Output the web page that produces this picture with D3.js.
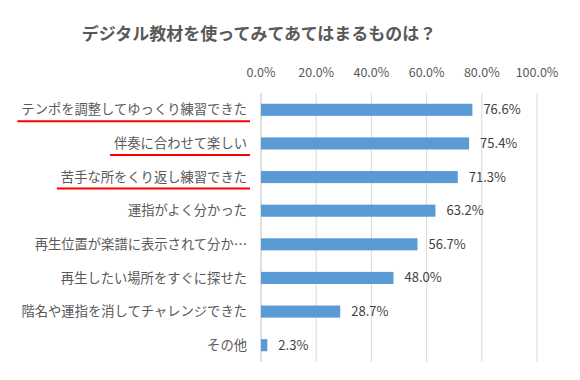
<!DOCTYPE html>
<html>
<head>
<meta charset="utf-8">
<script src="https://cdn.jsdelivr.net/npm/d3@7"></script>
<style>
  body { margin: 0; background: #fff; }
  text { font-family: "Noto Sans CJK JP", "Noto Sans", sans-serif; }
</style>
</head>
<body>
<div id="chart-container"></div>
<script>
// Data
const categories = [
  "テンポを調整してゆっくり練習できた",
  "伴奏に合わせて楽しい",
  "苦手な所をくり返し練習できた",
  "運指がよく分かった",
  "再生位置が楽譜に表示されて分か…",
  "再生したい場所をすぐに探せた",
  "階名や運指を消してチャレンジできた",
  "その他"
];
const values = [76.6, 75.4, 71.3, 63.2, 56.7, 48.0, 28.7, 2.3];
const tickValues = [0, 20, 40, 60, 80, 100];
const underlined = ["テンポを調整してゆっくり練習できた", "伴奏に合わせて楽しい", "苦手な所をくり返し練習できた"];

const W = 580, H = 380;
const margin = { top: 93, right: 43, bottom: 18, left: 261 };
const width = W - margin.left - margin.right;
const height = H - margin.top - margin.bottom;

const svg = d3.select("#chart-container")
  .append("svg")
  .attr("width", W)
  .attr("height", H);

// Title
svg.append("text")
  .attr("x", 259)
  .attr("y", 34)
  .attr("dy", "0.35em")
  .attr("text-anchor", "middle")
  .style("font-size", "17px")
  .style("font-weight", "bold")
  .style("fill", "#595959")
  .text("デジタル教材を使ってみてあてはまるものは？");

const g = svg.append("g")
  .attr("transform", `translate(${margin.left}, ${margin.top})`);

const xScale = d3.scaleLinear().domain([0, 100]).range([0, width]);
const yScale = d3.scaleBand().domain(categories).range([0, height]).paddingInner(0.64).paddingOuter(0.32);

// Gridlines
g.selectAll(".grid")
  .data(tickValues)
  .enter().append("line")
  .attr("x1", d => xScale(d))
  .attr("x2", d => xScale(d))
  .attr("y1", 0)
  .attr("y2", height)
  .style("stroke", d => d === 0 ? "#bfbfbf" : "#d9d9d9")
  .style("stroke-width", 1);

// Top axis labels
g.selectAll(".tick-label")
  .data(tickValues)
  .enter().append("text")
  .attr("x", d => xScale(d))
  .attr("y", -20)
  .attr("dy", "0.35em")
  .attr("text-anchor", "middle")
  .style("font-size", "12.5px")
  .style("fill", "#595959")
  .text(d => d3.format(".1f")(d) + "%");

// Bars
g.selectAll(".bar")
  .data(values)
  .enter().append("rect")
  .attr("x", xScale(0))
  .attr("y", (d, i) => yScale(categories[i]))
  .attr("width", d => xScale(d) - xScale(0))
  .attr("height", yScale.bandwidth())
  .style("fill", "#5b9bd5");

// Value labels
g.selectAll(".value")
  .data(values)
  .enter().append("text")
  .attr("x", d => xScale(d) + 11)
  .attr("y", (d, i) => yScale(categories[i]) + yScale.bandwidth() / 2)
  .attr("dy", "0.35em")
  .style("font-size", "13px")
  .style("fill", "#404040")
  .text(d => d3.format(".1f")(d) + "%");

// Category labels
const labels = g.selectAll(".cat")
  .data(categories)
  .enter().append("text")
  .attr("x", -14)
  .attr("y", d => yScale(d) + yScale.bandwidth() / 2)
  .attr("dy", "0.35em")
  .attr("text-anchor", "end")
  .style("font-size", "13.3px")
  .style("fill", "#595959")
  .text(d => d);

// Red underlines under highlighted labels
labels.filter(d => underlined.includes(d)).each(function(d) {
  const bb = this.getBBox();
  g.append("line")
    .attr("x1", bb.x - 4)
    .attr("x2", -11)
    .attr("y1", yScale(d) + yScale.bandwidth() / 2 + 11.5)
    .attr("y2", yScale(d) + yScale.bandwidth() / 2 + 11.5)
    .style("stroke", "#ff0000")
    .style("stroke-width", 2);
});
</script>
</body>
</html>
